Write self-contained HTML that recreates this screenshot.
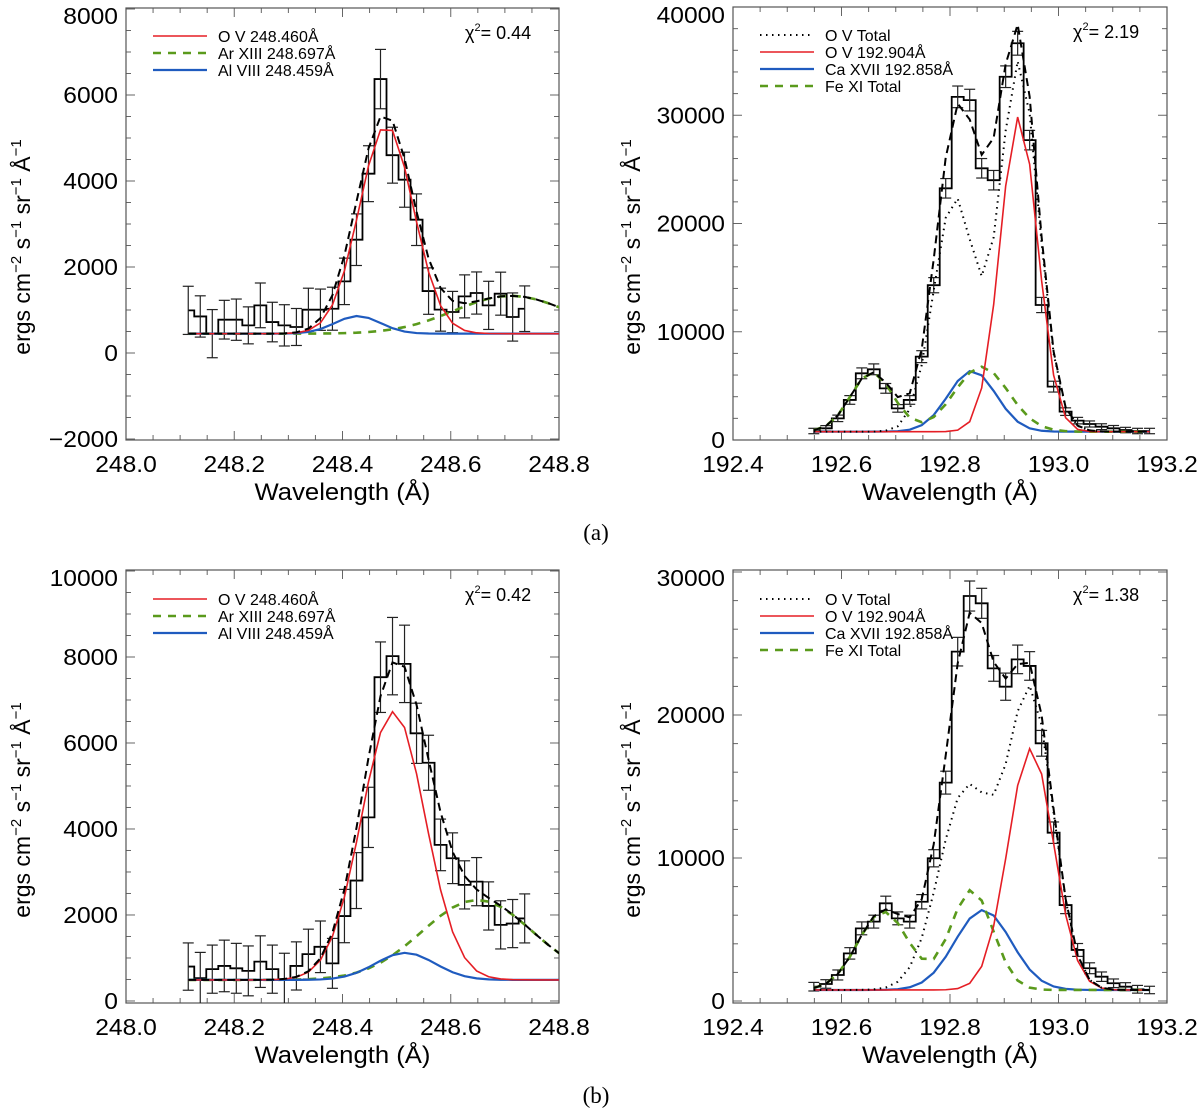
<!DOCTYPE html>
<html><head><meta charset="utf-8"><style>
html,body{margin:0;padding:0;background:#fff;}
svg{display:block;font-family:"Liberation Sans",sans-serif;}
</style></head><body>
<svg id="fig" width="1200" height="1113" viewBox="0 0 1200 1113" xmlns="http://www.w3.org/2000/svg"></svg>
<script>
// ---------- DATA ----------
const tlX0 = [248.115], tlStep = [0.0222];
const tlValues = [992,850,450,775,775,643,1108,720,643,605,1007,1007,1030,1666,2635,4170,6370,4600,4030,3100,1440,1008,953,1317,1395,1108,1380,837,1030];
const tlErrors = [560,480,560,450,480,430,520,460,480,430,500,480,500,540,600,650,690,650,640,600,540,500,480,500,490,560,500,560,530];
const tlBaseline = [450];
const tlRed = [4850,248.481,0.05];
const tlBlue = [410,248.428,0.042];
const tlGreen = [880,248.711,0.105];

const trX0 = [192.549], trStep = [0.0221];
const trValues = [830,1080,2000,3700,6160,6530,4770,2920,3700,7700,14300,23250,31700,31400,25100,24000,33560,36650,27700,12470,4930,2620,1790,1480,1230,1080,920,830,830];
const trErrors = [250,250,300,400,500,500,450,350,400,550,700,900,1000,1000,900,900,1000,1100,900,700,500,350,300,280,270,260,250,250,250];
const trBaseline = [770];
const trRed = [29130,192.927,0.0345];
const trOV2 = [21500,192.808,0.038];
const trOV3 = [5000,192.93,0.045];
const trBlue = [5630,192.841,0.044];
const trFe1 = [5500,192.656,0.039];
const trFe2 = [6000,192.858,0.05];

const blX0 = [248.115], blStep = [0.0222];
const blValues = [800,530,740,815,760,700,915,740,490,815,1090,1260,875,1975,2800,4270,7530,8020,7840,6225,5540,3630,3320,2700,2775,2210,1770,1800,1920];
const blErrors = [550,600,560,600,580,580,600,560,620,560,580,600,580,620,650,700,820,900,900,700,640,600,590,560,560,560,560,560,570];
const blBaseline = [490];
const blRed = [6240,248.494,0.059];
const blBlue = [630,248.516,0.055];
const blGreen = [1860,248.649,0.102];

const brX0 = [192.549], brStep = [0.0221];
const brValues = [1000,1190,1820,3330,5080,5550,6830,5780,5550,6940,9980,15270,24430,28320,27810,23260,21980,23890,23430,18020,11770,6710,3570,2290,1700,1240,1000,820,770];
const brErrors = [300,300,350,400,450,450,500,450,450,500,600,800,1000,1050,1050,900,950,1000,1000,900,750,600,450,380,330,300,280,270,260];
const brBaseline = [770];
const brRed = [16900,192.949,0.042];
const brOV2 = [14000,192.83,0.05];
const brOV3 = [3500,192.95,0.04];
const brBlue = [5590,192.861,0.052];
const brFe1 = [5480,192.677,0.047];
const brFe2 = [6990,192.840,0.039];

const leftXTicks = ["248.0","248.2","248.4","248.6","248.8"];
const rightXTicks = ["192.4","192.6","192.8","193.0","193.2"];
const tlYTicks = ["-2000","0","2000","4000","6000","8000"];
const trYTicks = ["0","10000","20000","30000","40000"];
const blYTicks = ["0","2000","4000","6000","8000","10000"];
const brYTicks = ["0","10000","20000","30000"];

// ---------- DRAW ----------
const NS = "http://www.w3.org/2000/svg";
const svg = document.getElementById('fig');
const RED="#e51e25", BLUE="#1f5bbf", GREEN="#5a9a1c";
function mk(tag, attrs, parent){ const e=document.createElementNS(NS,tag); for(const k in attrs) e.setAttribute(k,attrs[k]); (parent||svg).appendChild(e); return e; }
function gauss(p,x){ return p[0]*Math.exp(-((x-p[1])**2)/(2*p[2]*p[2])); }

function panel(cfg){
  const g = mk('g',{});
  
  
  const L=cfg.box[0], T=cfg.box[1], R=cfg.box[2], B=cfg.box[3];
  const sx = v => L + (v-cfg.xd[0])/(cfg.xd[1]-cfg.xd[0])*(R-L);
  const sy = v => B - (v-cfg.yd[0])/(cfg.yd[1]-cfg.yd[0])*(B-T);
  const clip = 'clip-'+cfg.name;
  const cp = mk('clipPath',{id:clip},g); mk('rect',{x:L,y:T,width:R-L,height:B-T},cp);
  // ticks
  const tg = mk('g',{stroke:'#666','stroke-width':1},g);
  
  
  for(let v=cfg.xd[0]; v<=cfg.xd[1]+1e-9; v+=cfg.xMinor){
    const x=sx(v); const maj = Math.abs(((v-cfg.xd[0])/cfg.xMajor)-Math.round((v-cfg.xd[0])/cfg.xMajor))<1e-6;
    const len = maj?9:5;
    mk('line',{x1:x,y1:B,x2:x,y2:B-len},tg); mk('line',{x1:x,y1:T,x2:x,y2:T+len},tg);
  }
  const y0 = Math.ceil(cfg.yd[0]/cfg.yMinor)*cfg.yMinor;
  for(let v=y0; v<=cfg.yd[1]; v+=cfg.yMinor){
    const y=sy(v); const maj = Math.abs(v/cfg.yMajor-Math.round(v/cfg.yMajor))<1e-6;
    const len = maj?9:5;
    mk('line',{x1:L,y1:y,x2:L+len,y2:y},tg); mk('line',{x1:R,y1:y,x2:R-len,y2:y},tg);
  }
  const fr = mk('rect',{x:L,y:T,width:R-L,height:B-T,fill:'none',stroke:'#555','stroke-width':1.2},g);
  
  
  // tick labels
  cfg.xLabels.forEach((s,i)=>{
    const v = cfg.xd[0]+i*cfg.xMajor;
    const t = mk('text',{x:0,y:0,'font-size':23,'text-anchor':'middle',transform:`translate(${sx(v)},${B+32}) scale(1.07,1)`},g);
    t.textContent=s;
    
    
  });
  cfg.yLabels.forEach((s,i)=>{
    const v = parseFloat(s.replace('-','-'));
    let y = sy(v)+8; if(y<T+16) y=T+16;
    const t = mk('text',{x:0,y:0,'font-size':23,'text-anchor':'end',transform:`translate(${L-8},${y}) scale(1.07,1)`},g);
    t.textContent = s.replace('-','\u2212');
    
    
  });
  // axis titles
  const xt = mk('text',{x:0,y:0,'font-size':24,'text-anchor':'middle',transform:`translate(${(L+R)/2},${B+60}) scale(1.07,1)`},g);
  xt.textContent='Wavelength (Å)';
  
  
  const yt = mk('text',{x:0,y:0,'font-size':23,'text-anchor':'middle',transform:`translate(${cfg.ytX},${cfg.ytY}) rotate(-90)`},g);
  
  
  yt.innerHTML='ergs cm<tspan dy="-9" font-size="15">−2</tspan><tspan dy="9"> s</tspan><tspan dy="-9" font-size="15">−1</tspan><tspan dy="9"> sr</tspan><tspan dy="-9" font-size="15">−1</tspan><tspan dy="9"> Å</tspan><tspan dy="-9" font-size="15">−1</tspan>';

  // plot content
  const pg = mk('g',{'clip-path':`url(#${clip})`},g);
  const n = cfg.vals.length, x0=cfg.x0[0], dx=cfg.step[0];
  const xs = []; for(let i=0;i<n;i++) xs.push(x0+i*dx);
  // histogram
  let d='';
  for(let i=0;i<n;i++){
    const a = sx(xs[i]-(i===0?0:dx/2)), b = sx(xs[i]+(i===n-1?0:dx/2)), y=sy(cfg.vals[i]);
    d += (i===0?`M${a},${y}`:`L${a},${y}`)+`L${b},${y}`;
  }
  const h = mk('path',{d:d,fill:'none',stroke:'#000','stroke-width':1.8},pg);
  
  
  const eg = mk('g',{stroke:'#222','stroke-width':1.2},pg);
  
  
  for(let i=0;i<n;i++){
    const x=sx(xs[i]), y1=sy(cfg.vals[i]-cfg.errs[i]), y2=sy(cfg.vals[i]+cfg.errs[i]);
    mk('line',{x1:x,y1:y1,x2:x,y2:y2},eg);
    mk('line',{x1:x-5.5,y1:y1,x2:x+5.5,y2:y1},eg);
    mk('line',{x1:x-5.5,y1:y2,x2:x+5.5,y2:y2},eg);
  }
  // curve samples
  const cx=[]; let nEnd = cfg.extend ? Math.ceil((cfg.xd[1]-x0)/dx) : n-1;
  for(let i=0;i<=nEnd;i++) cx.push(x0+i*dx);
  const base = cfg.base[0];
  function curve(comps, name, style){
    let p='';
    cx.forEach((x,i)=>{ let v=base; comps.forEach(c=>v+=gauss(c,x)); p+=(i?'L':'M')+sx(x)+','+sy(v); });
    const e = mk('path',Object.assign({d:p,fill:'none'},style),pg);
    
    
  }
  cfg.curves.forEach(c=>curve(c.comps,c.name,c.style));
  // legend
  const lg = mk('g',{},g);
  
  
  cfg.legend.forEach((it,i)=>{
    const y = cfg.legY + i*17;
    const ent = mk('g',{},lg);
    
    
    mk('line',Object.assign({x1:cfg.legX,y1:y,x2:cfg.legX+54,y2:y},it.style),ent);
    const t = mk('text',{x:cfg.legX+65,y:y+6,'font-size':16},ent);
    t.textContent = it.label;
  });
  const chi = mk('text',{x:cfg.chiX,y:T+31,'font-size':18},g);
  
  
  chi.innerHTML = 'χ<tspan dy="-8" font-size="11">2</tspan><tspan dy="8">= '+cfg.chi+'</tspan>';
}

const sRed={stroke:RED,'stroke-width':1.6}, sBlue={stroke:BLUE,'stroke-width':2.2},
      sGreen={stroke:GREEN,'stroke-width':2.6,'stroke-dasharray':'8,7'},
      sTot={stroke:'#000','stroke-width':2,'stroke-dasharray':'8,5'},
      sDot={stroke:'#000','stroke-width':2,'stroke-dasharray':'1.5,4.5'};
const legL=[{label:'O V 248.460Å',style:sRed},{label:'Ar XIII 248.697Å',style:sGreen},{label:'Al VIII 248.459Å',style:sBlue}];
const legR=[{label:'O V Total',style:sDot},{label:'O V 192.904Å',style:sRed},{label:'Ca XVII 192.858Å',style:sBlue},{label:'Fe XI Total',style:sGreen}];

panel({name:'panel-a-left',box:[126,8,559,440],xd:[248.0,248.8],yd:[-2023,8023],xMajor:0.2,xMinor:0.05,yMajor:2000,yMinor:500,
  xLabels:leftXTicks,yLabels:tlYTicks,ytX:30,ytY:247,x0:tlX0,step:tlStep,vals:tlValues,errs:tlErrors,base:tlBaseline,extend:true,
  curves:[{comps:[tlGreen],name:'ar-xiii-curve',style:sGreen},{comps:[tlBlue],name:'al-viii-curve',style:sBlue},
          {comps:[tlRed],name:'o-v-curve',style:sRed},{comps:[tlRed,tlBlue,tlGreen],name:'total-fit-curve',style:sTot}],
  legend:legL,legX:153,legY:36,chiX:465,chi:'0.44'});
panel({name:'panel-a-right',box:[733,7,1167,440],xd:[192.4,193.2],yd:[0,40000],xMajor:0.2,xMinor:0.05,yMajor:10000,yMinor:2000,
  xLabels:rightXTicks,yLabels:trYTicks,ytX:640,ytY:247,x0:trX0,step:trStep,vals:trValues,errs:trErrors,base:trBaseline,extend:false,
  curves:[{comps:[trBlue],name:'ca-xvii-curve',style:sBlue},{comps:[trFe1,trFe2],name:'fe-xi-total-curve',style:sGreen},
          {comps:[trRed],name:'o-v-curve',style:sRed},{comps:[trRed,trOV2,trOV3],name:'o-v-total-curve',style:sDot},
          {comps:[trRed,trOV2,trOV3,trBlue,trFe1,trFe2],name:'total-fit-curve',style:sTot}],
  legend:legR,legX:760,legY:35,chiX:1073,chi:'2.19'});
panel({name:'panel-b-left',box:[126,570,559,1003],xd:[248.0,248.8],yd:[-47,10023],xMajor:0.2,xMinor:0.05,yMajor:2000,yMinor:500,
  xLabels:leftXTicks,yLabels:blYTicks,ytX:30,ytY:810,x0:blX0,step:blStep,vals:blValues,errs:blErrors,base:blBaseline,extend:true,
  curves:[{comps:[blGreen],name:'ar-xiii-curve',style:sGreen},{comps:[blBlue],name:'al-viii-curve',style:sBlue},
          {comps:[blRed],name:'o-v-curve',style:sRed},{comps:[blRed,blBlue,blGreen],name:'total-fit-curve',style:sTot}],
  legend:legL,legX:153,legY:599,chiX:465,chi:'0.42'});
panel({name:'panel-b-right',box:[733,570,1167,1003],xd:[192.4,193.2],yd:[-140,30140],xMajor:0.2,xMinor:0.05,yMajor:10000,yMinor:2000,
  xLabels:rightXTicks,yLabels:brYTicks,ytX:640,ytY:810,x0:brX0,step:brStep,vals:brValues,errs:brErrors,base:brBaseline,extend:false,
  curves:[{comps:[brBlue],name:'ca-xvii-curve',style:sBlue},{comps:[brFe1,brFe2],name:'fe-xi-total-curve',style:sGreen},
          {comps:[brRed],name:'o-v-curve',style:sRed},{comps:[brRed,brOV2,brOV3],name:'o-v-total-curve',style:sDot},
          {comps:[brRed,brOV2,brOV3,brBlue,brFe1,brFe2],name:'total-fit-curve',style:sTot}],
  legend:legR,legX:760,legY:599,chiX:1073,chi:'1.38'});

const la = mk('text',{x:596,y:540,'font-size':23,'text-anchor':'middle','font-family':'Liberation Serif, serif'});
la.textContent='(a)';


const lb = mk('text',{x:596,y:1103,'font-size':23,'text-anchor':'middle','font-family':'Liberation Serif, serif'});
lb.textContent='(b)';


</script>
</body></html>
